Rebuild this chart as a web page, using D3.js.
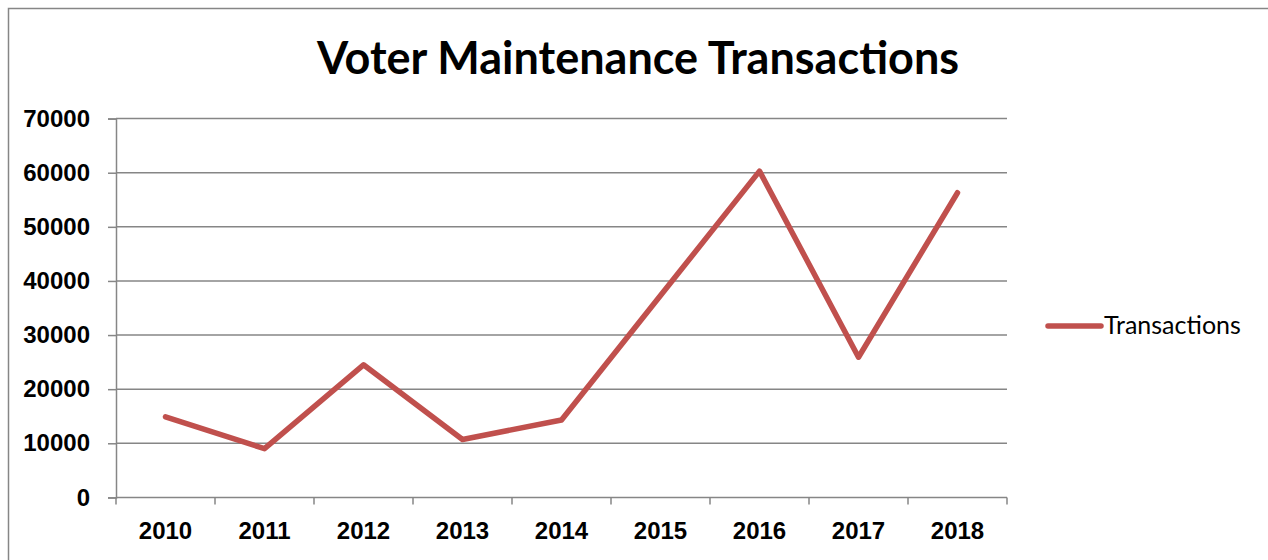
<!DOCTYPE html>
<html>
<head>
<meta charset="utf-8">
<script src="https://cdn.jsdelivr.net/npm/d3@7"></script>
<style>
  body { margin: 0; background: #fff; }
  svg { display: block; }
</style>
</head>
<body>
<script>
// chart data
const years = ["2010", "2011", "2012", "2013", "2014", "2015", "2016", "2017", "2018"];
const transactions = [14900, 9000, 24500, 10700, 14300, 37300, 60300, 25900, 56300];
const yTicks = [0, 10000, 20000, 30000, 40000, 50000, 60000, 70000];
const seriesName = "Transactions";
const chartTitle = "Voter Maintenance Transactions";

const w = 1268;
const h = 560;
const plotLeft = 116, plotRight = 1007, plotTop = 118.6, plotBottom = 497.4;

const svg = d3.select("body")
  .append("svg")
  .attr("width", w)
  .attr("height", h);

// outer frame
svg.append("rect")
  .attr("x", 8.5).attr("y", 8.5)
  .attr("width", w).attr("height", h)
  .attr("fill", "none")
  .attr("stroke", "#868686")
  .attr("stroke-width", 1.5);

svg.append("text")
  .attr("x", 638).attr("y", 74)
  .attr("text-anchor", "middle")
  .attr("font-family", "Lato, 'Open Sans', sans-serif")
  .attr("font-weight", "bold")
  .attr("font-size", 45)
  .text(chartTitle);

const xScale = d3.scaleBand()
  .domain(years)
  .range([plotLeft, plotRight]);

const yScale = d3.scaleLinear()
  .domain([0, 70000])
  .range([plotBottom, plotTop]);

// gridlines
svg.append("g")
  .selectAll("line")
  .data(yTicks.slice(1))
  .enter()
  .append("line")
  .attr("x1", plotLeft).attr("x2", plotRight)
  .attr("y1", (d) => yScale(d)).attr("y2", (d) => yScale(d))
  .attr("stroke", "#868686")
  .attr("stroke-width", 1.5);

const yAxis = d3.axisLeft(yScale)
  .tickValues(yTicks)
  .tickFormat(d3.format("d"))
  .tickSize(8)
  .tickPadding(18);

const gy = svg.append("g")
  .attr("transform", `translate(${plotLeft}, 0)`)
  .call(yAxis);

const xAxis = d3.axisBottom(xScale)
  .tickSize(0)
  .tickPadding(25);

const gx = svg.append("g")
  .attr("transform", `translate(0, ${plotBottom})`)
  .call(xAxis);

// x ticks at band edges
svg.append("g")
  .selectAll("line")
  .data(years.concat(["end"]))
  .enter()
  .append("line")
  .attr("x1", (d, i) => plotLeft + i * xScale.step())
  .attr("x2", (d, i) => plotLeft + i * xScale.step())
  .attr("y1", plotBottom).attr("y2", plotBottom + 7)
  .attr("stroke", "#868686")
  .attr("stroke-width", 1.5);

[gx, gy].forEach((g) => {
  g.select(".domain").attr("stroke", "#868686").attr("stroke-width", 1.5);
  g.selectAll(".tick line").attr("stroke", "#868686").attr("stroke-width", 1.5);
  g.selectAll("text")
    .attr("fill", "#000")
    .attr("font-family", "'Liberation Sans', Arial, sans-serif")
    .attr("font-weight", "bold")
    .attr("font-size", 24);
});
gx.select(".domain").attr("d", `M${plotLeft},0H${plotRight}`);

const line = d3.line()
  .x((d, i) => xScale(years[i]) + xScale.bandwidth() / 2)
  .y((d) => yScale(d));

svg.append("path")
  .datum(transactions)
  .attr("d", line)
  .attr("fill", "none")
  .attr("stroke", "#C0504D")
  .attr("stroke-width", 5.5)
  .attr("stroke-linejoin", "round")
  .attr("stroke-linecap", "round");

// legend
svg.append("line")
  .attr("x1", 1048).attr("x2", 1101)
  .attr("y1", 326).attr("y2", 326)
  .attr("stroke", "#C0504D")
  .attr("stroke-width", 5.5)
  .attr("stroke-linecap", "round");

svg.append("text")
  .attr("x", 1104).attr("y", 334)
  .attr("font-family", "Lato, 'Open Sans', sans-serif")
  .attr("font-size", 25)
  .text(seriesName);
</script>
</body>
</html>
